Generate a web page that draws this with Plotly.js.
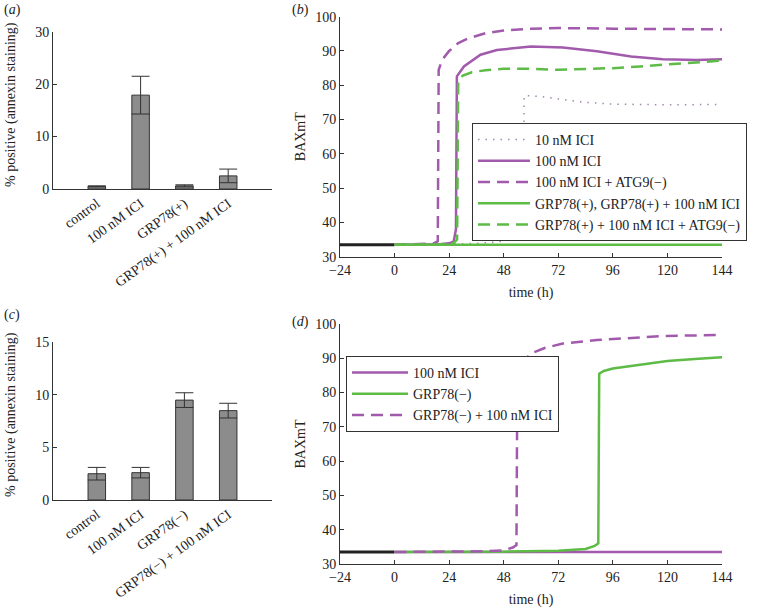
<!DOCTYPE html>
<html>
<head>
<meta charset="utf-8">
<script src="https://cdn.plot.ly/plotly-3.0.1.min.js"></script>
<style>html,body{margin:0;padding:0;background:#fff}#chart{width:774px;height:608px}</style>
</head>
<body>
<div id="chart"></div>
<script>
// ---- Panel (a) data ----
const catsA = ["control", "100 nM ICI", "GRP78(+)", "GRP78(+) + 100 nM ICI"];
const valsA = [0.5, 17.9, 0.6, 2.5];
const errA  = [0.1, 3.6, 0.2, 1.3];
// ---- Panel (c) data ----
const catsC = ["control", "100 nM ICI", "GRP78(−)", "GRP78(−) + 100 nM ICI"];
const valsC = [2.5, 2.6, 9.5, 8.5];
const errC  = [0.6, 0.5, 0.7, 0.7];

// ---- Panel (b) data ----
const baseT = [-24, 0];
const baseY = [33.5, 33.5];
const b10T = [0, 24, 36, 45, 52, 55, 56.5, 57, 60, 66, 72, 84, 96, 108, 120, 144];
const b10Y = [33.5, 33.6, 33.9, 34.3, 35, 36.5, 40, 77, 76.9, 76.6, 76, 75, 74.5, 74.3, 74.3, 74.4];
const b100T = [0, 12, 20, 24, 26, 27, 27.4, 30.5, 37.8, 45, 60, 74, 89, 104, 118, 133, 144];
const b100Y = [33.5, 33.5, 33.6, 33.9, 34.5, 38, 82.6, 85.5, 88.9, 90.3, 91.3, 91.0, 89.9, 88.4, 87.6, 87.4, 87.6];
const b100AT = [0, 10, 17, 19, 19.4, 21, 24, 28, 32, 40, 48, 60, 72, 96, 120, 144];
const b100AY = [33.5, 33.6, 33.8, 34.5, 84.5, 87.5, 90, 92.3, 93.6, 95.2, 96, 96.5, 96.7, 96.5, 96.4, 96.3];
const bGpT = [0, 144];
const bGpY = [33.5, 33.5];
const bGpAT = [0, 20, 26, 27.5, 28, 30, 34, 40, 48, 60, 72, 84, 96, 108, 120, 132, 144];
const bGpAY = [33.5, 33.6, 34, 35, 81.5, 82.8, 83.8, 84.4, 84.8, 84.8, 84.5, 84.7, 85, 85.5, 86, 86.6, 87.2];

// ---- Panel (d) data ----
const d100T = [0, 144];
const d100Y = [33.5, 33.5];
const dGmT = [0, 48, 72, 84, 88, 89.6, 90, 92, 96, 104, 112, 120, 132, 144];
const dGmY = [33.5, 33.6, 33.9, 34.4, 35.3, 36, 85.5, 86.3, 87, 87.8, 88.6, 89.2, 89.8, 90.3];
const dGmIT = [0, 24, 40, 48, 52, 53.6, 54, 56, 60, 66, 74, 89, 104, 118, 144];
const dGmIY = [33.5, 33.5, 33.7, 34, 34.8, 35.5, 86, 88.5, 91.4, 93, 94.3, 95.3, 95.9, 96.5, 96.8];

const timeTicks = [-24, 0, 24, 48, 72, 96, 120, 144];
const barYTitle = '% positive (annexin staining)';

const PURPLE = '#a25aad';
const GREEN = '#5dbb46';
const DOT = '#a08aad';
const FONT = 'Liberation Serif, Times New Roman, serif';
const W = 774, H = 608;
const px = (a, b) => [a / W, b / W];
const py = (top, bottom) => [1 - bottom / H, 1 - top / H];

const barStyle = {type: 'bar', width: 0.4, marker: {color: '#8c8c8c', line: {color: '#333', width: 1}}, showlegend: false};
const traces = [
  Object.assign({x: catsA, y: valsA, error_y: {type: 'data', array: errA, color: '#333', thickness: 1, width: 9}, xaxis: 'x', yaxis: 'y'}, barStyle),
  Object.assign({x: catsC, y: valsC, error_y: {type: 'data', array: errC, color: '#333', thickness: 1, width: 9}, xaxis: 'x3', yaxis: 'y3'}, barStyle),
  // panel b
  {x: baseT, y: baseY, mode: 'lines', line: {color: '#222', width: 3}, xaxis: 'x2', yaxis: 'y2', showlegend: false},
  {x: b10T, y: b10Y, mode: 'lines', name: '10 nM ICI', line: {color: DOT, width: 1.5, dash: '1.5px,6px'}, xaxis: 'x2', yaxis: 'y2', legend: 'legend', legendrank: 1},
  {x: b100AT, y: b100AY, mode: 'lines', name: '100 nM ICI + ATG9(−)', line: {color: PURPLE, width: 2.5, dash: '12px,7px'}, xaxis: 'x2', yaxis: 'y2', legend: 'legend', legendrank: 3},
  {x: b100T, y: b100Y, mode: 'lines', name: '100 nM ICI', line: {color: PURPLE, width: 2.5}, xaxis: 'x2', yaxis: 'y2', legend: 'legend', legendrank: 2},
  {x: bGpAT, y: bGpAY, mode: 'lines', name: 'GRP78(+) + 100 nM ICI + ATG9(−)', line: {color: GREEN, width: 2.5, dash: '12px,7px'}, xaxis: 'x2', yaxis: 'y2', legend: 'legend', legendrank: 5},
  {x: bGpT, y: bGpY, mode: 'lines', name: 'GRP78(+), GRP78(+) + 100 nM ICI', line: {color: GREEN, width: 2.5}, xaxis: 'x2', yaxis: 'y2', legend: 'legend', legendrank: 4},
  // panel d
  {x: baseT, y: baseY, mode: 'lines', line: {color: '#222', width: 3}, xaxis: 'x4', yaxis: 'y4', showlegend: false},
  {x: d100T, y: d100Y, mode: 'lines', name: '100 nM ICI', line: {color: PURPLE, width: 2.5}, xaxis: 'x4', yaxis: 'y4', legend: 'legend2', legendrank: 1},
  {x: dGmT, y: dGmY, mode: 'lines', name: 'GRP78(−)', line: {color: GREEN, width: 2.5}, xaxis: 'x4', yaxis: 'y4', legend: 'legend2', legendrank: 2},
  {x: dGmIT, y: dGmIY, mode: 'lines', name: 'GRP78(−) + 100 nM ICI', line: {color: PURPLE, width: 2.5, dash: '12px,7px'}, xaxis: 'x4', yaxis: 'y4', legend: 'legend2', legendrank: 3}
];

const tf = {family: FONT, size: 14, color: '#222'};
const barX = (dom, anchor) => ({domain: dom, anchor: anchor, type: 'category', range: [-1, 4], showline: true, linecolor: '#333', linewidth: 1, ticks: '', tickangle: -36, tickfont: tf, showgrid: false, zeroline: false, fixedrange: true});
const barY = (dom, anchor, rng, dt) => ({domain: dom, anchor: anchor, range: rng, dtick: dt, showline: true, linecolor: '#333', linewidth: 1, ticks: 'inside', ticklen: 4, tickcolor: '#333', tickfont: tf, showgrid: false, zeroline: false});
const timeX = (dom, anchor) => ({domain: dom, anchor: anchor, range: [-24, 144], tickvals: timeTicks, showline: true, linecolor: '#333', linewidth: 1, ticks: 'inside', ticklen: 4, tickcolor: '#333', tickfont: tf, showgrid: false, zeroline: false,
  title: {text: 'time (h)', font: tf, standoff: 10}});
const baxY = (dom, anchor) => ({domain: dom, anchor: anchor, range: [30, 100], dtick: 10, showline: true, linecolor: '#333', linewidth: 1, ticks: 'inside', ticklen: 4, tickcolor: '#333', tickfont: tf, showgrid: false, zeroline: false,
  title: {text: 'BAXmT', font: tf, standoff: 6}});

const legendBase = {font: {family: FONT, size: 14, color: '#222'}, bgcolor: '#fff', bordercolor: '#333', borderwidth: 1, xanchor: 'left', yanchor: 'top', tracegroupgap: 0};

const annBase = {xref: 'paper', yref: 'paper', showarrow: false, xanchor: 'center', yanchor: 'middle', font: {family: FONT, size: 14, color: '#222'}};
const layout = {
  width: W, height: H,
  margin: {l: 0, r: 0, t: 0, b: 0},
  paper_bgcolor: '#fff', plot_bgcolor: '#fff',
  font: {family: FONT, size: 14, color: '#222'},
  xaxis: barX(px(53, 272), 'y'),
  yaxis: barY(py(31.7, 189), 'x', [0, 30], 10),
  xaxis3: barX(px(53, 272), 'y3'),
  yaxis3: barY(py(342.3, 500), 'x3', [0, 15], 5),
  xaxis2: timeX(px(340, 722), 'y2'),
  yaxis2: baxY(py(16.7, 256.7), 'x2'),
  xaxis4: timeX(px(340, 722), 'y4'),
  yaxis4: baxY(py(324, 564), 'x4'),
  legend: Object.assign({x: 472 / W, y: 1 - 123 / H, itemwidth: 52}, legendBase),
  legend2: Object.assign({x: 346 / W, y: 1 - 356 / H, itemwidth: 56}, legendBase),
  annotations: [
    {text: '(<i>a</i>)', x: 12 / W, y: 1 - 10 / H},
    {text: '(<i>b</i>)', x: 300 / W, y: 1 - 10 / H},
    {text: '(<i>c</i>)', x: 12 / W, y: 1 - 315 / H},
    {text: '(<i>d</i>)', x: 300 / W, y: 1 - 322 / H}
  ].map(a => Object.assign({}, annBase, a)).concat([
    Object.assign({}, annBase, {text: barYTitle, x: 11 / W, y: 1 - 105 / H, textangle: -90}),
    Object.assign({}, annBase, {text: barYTitle, x: 11 / W, y: 1 - 415 / H, textangle: -90})
  ])
};

Plotly.newPlot('chart', traces, layout, {displayModeBar: false, staticPlot: true});
</script>
</body>
</html>
